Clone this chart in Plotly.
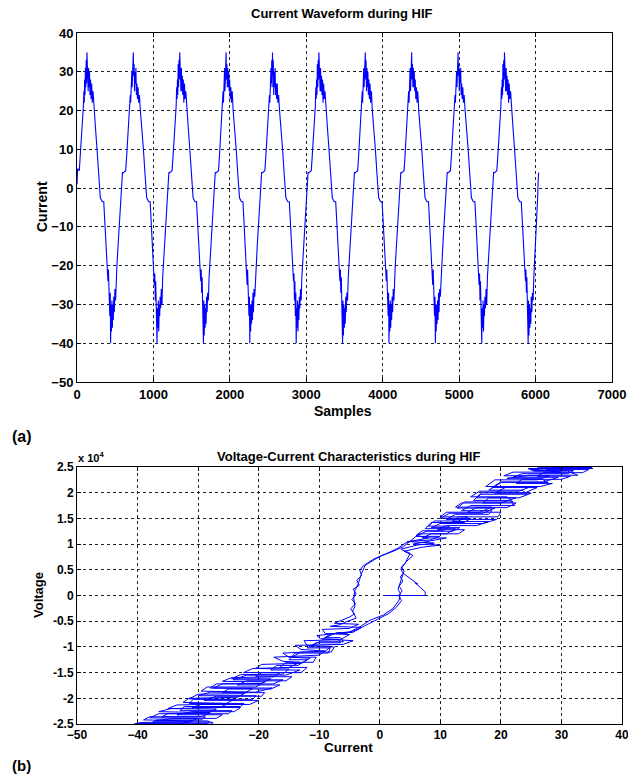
import plotly.graph_objects as go

# ---------------- (a) Current waveform during HIF (one list per cycle) ----------------
samples_c0 = [0, 8, 30, 42, 55, 70, 83, 90, 95, 100, 105, 110, 115, 120, 125, 130, 135, 140, 146, 152, 158, 164, 170, 177, 184, 192, 200, 210, 222, 240, 262, 285, 305, 330, 350, 362, 380, 398, 405, 411, 417, 423, 429, 435, 440, 445, 451, 457, 463, 469, 475, 481, 488, 496, 505, 514, 522, 537, 552, 570, 582, 595]
current_c0 = [1, 5, 4.5, 8, 12, 17, 21, 25, 22, 28, 24, 31, 26, 33, 27, 35, 28, 33, 25, 31, 26, 30, 24, 28, 23, 27, 22, 25, 20, 16, 10, 3, -2.5, -3.5, -3.5, -8, -14, -20, -24, -21, -28, -24, -33, -27, -40, -30, -37, -29, -36, -30, -34, -28, -32, -26, -29, -23, -20, -15, -10, -3, 2, 4]

samples_c1 = [607, 637, 649, 662, 677, 690, 697, 702, 707, 712, 717, 722, 727, 732, 737, 742, 747, 753, 759, 765, 771, 777, 784, 791, 799, 807, 817, 829, 847, 869, 892, 912, 937, 957, 969, 987, 1005, 1012, 1018, 1024, 1030, 1036, 1042, 1047, 1052, 1058, 1064, 1070, 1076, 1082, 1088, 1095, 1103, 1112, 1121, 1129, 1144, 1159, 1177, 1189, 1202]
current_c1 = [4, 4.5, 8, 12, 17, 21, 24, 22, 29, 25, 30, 26, 34, 27, 35, 29, 32, 25, 30, 27, 31, 24, 27, 23, 26, 22, 24, 20, 16, 10, 3, -2.5, -3.5, -3.5, -8, -14, -20, -25, -22, -29, -24, -34, -28, -40, -31, -36, -29, -37, -30, -33, -28, -31, -26, -30, -23, -20, -15, -10, -3, 2, 4]

samples_c2 = [1214, 1244, 1256, 1269, 1284, 1297, 1304, 1309, 1314, 1319, 1324, 1329, 1334, 1339, 1344, 1349, 1354, 1360, 1366, 1372, 1378, 1384, 1391, 1398, 1406, 1414, 1424, 1436, 1454, 1476, 1499, 1519, 1544, 1564, 1576, 1594, 1612, 1619, 1625, 1631, 1637, 1643, 1649, 1654, 1659, 1665, 1671, 1677, 1683, 1689, 1695, 1702, 1710, 1719, 1728, 1736, 1751, 1766, 1784, 1796, 1809]
current_c2 = [4, 4.5, 8, 12, 17, 21, 26, 23, 28, 24, 32, 26, 33, 28, 35, 27, 34, 25, 31, 25, 29, 24, 28, 22, 27, 23, 25, 20, 16, 10, 3, -2.5, -3.5, -3.5, -8, -14, -20, -24, -21, -27, -23, -32, -27, -40, -29, -38, -30, -36, -31, -35, -28, -32, -27, -29, -23, -20, -15, -10, -3, 2, 4]

samples_c3 = [1821, 1851, 1863, 1876, 1891, 1904, 1911, 1916, 1921, 1926, 1931, 1936, 1941, 1946, 1951, 1956, 1961, 1967, 1973, 1979, 1985, 1991, 1998, 2005, 2013, 2021, 2031, 2043, 2061, 2083, 2106, 2126, 2151, 2171, 2183, 2201, 2219, 2226, 2232, 2238, 2244, 2250, 2256, 2261, 2266, 2272, 2278, 2284, 2290, 2296, 2302, 2309, 2317, 2326, 2335, 2343, 2358, 2373, 2391, 2403, 2416]
current_c3 = [4, 4.5, 8, 12, 17, 21, 25, 22, 27, 23, 31, 25, 33, 27, 35, 28, 32, 26, 31, 26, 30, 25, 28, 23, 26, 22, 25, 20, 16, 10, 3, -2.5, -3.5, -3.5, -8, -14, -20, -25, -21, -28, -25, -33, -28, -40, -30, -37, -30, -35, -29, -34, -27, -32, -26, -28, -23, -20, -15, -10, -3, 2, 4]

samples_c4 = [2428, 2458, 2470, 2483, 2498, 2511, 2518, 2523, 2528, 2533, 2538, 2543, 2548, 2553, 2558, 2563, 2568, 2574, 2580, 2586, 2592, 2598, 2605, 2612, 2620, 2628, 2638, 2650, 2668, 2690, 2713, 2733, 2758, 2778, 2790, 2808, 2826, 2833, 2839, 2845, 2851, 2857, 2863, 2868, 2873, 2879, 2885, 2891, 2897, 2903, 2909, 2916, 2924, 2933, 2942, 2950, 2965, 2980, 2998, 3010, 3023]
current_c4 = [4, 4.5, 8, 12, 17, 21, 24, 22, 28, 25, 31, 27, 33, 26, 35, 29, 33, 24, 30, 26, 31, 24, 27, 23, 27, 22, 24, 20, 16, 10, 3, -2.5, -3.5, -3.5, -8, -14, -20, -24, -22, -29, -24, -33, -27, -40, -31, -36, -29, -37, -30, -34, -28, -31, -26, -29, -23, -20, -15, -10, -3, 2, 4]

samples_c5 = [3035, 3065, 3077, 3090, 3105, 3118, 3125, 3130, 3135, 3140, 3145, 3150, 3155, 3160, 3165, 3170, 3175, 3181, 3187, 3193, 3199, 3205, 3212, 3219, 3227, 3235, 3245, 3257, 3275, 3297, 3320, 3340, 3365, 3385, 3397, 3415, 3433, 3440, 3446, 3452, 3458, 3464, 3470, 3475, 3480, 3486, 3492, 3498, 3504, 3510, 3516, 3523, 3531, 3540, 3549, 3557, 3572, 3587, 3605, 3617, 3630]
current_c5 = [4, 4.5, 8, 12, 17, 21, 26, 23, 28, 24, 32, 26, 33, 28, 35, 27, 34, 25, 31, 25, 29, 24, 28, 22, 27, 23, 25, 20, 16, 10, 3, -2.5, -3.5, -3.5, -8, -14, -20, -24, -21, -27, -23, -32, -27, -40, -29, -38, -30, -36, -31, -35, -28, -32, -27, -29, -23, -20, -15, -10, -3, 2, 4]

samples_c6 = [3642, 3672, 3684, 3697, 3712, 3725, 3732, 3737, 3742, 3747, 3752, 3757, 3762, 3767, 3772, 3777, 3782, 3788, 3794, 3800, 3806, 3812, 3819, 3826, 3834, 3842, 3852, 3864, 3882, 3904, 3927, 3947, 3972, 3992, 4004, 4022, 4040, 4047, 4053, 4059, 4065, 4071, 4077, 4082, 4087, 4093, 4099, 4105, 4111, 4117, 4123, 4130, 4138, 4147, 4156, 4164, 4179, 4194, 4212, 4224, 4237]
current_c6 = [4, 4.5, 8, 12, 17, 21, 25, 22, 28, 24, 31, 26, 33, 27, 35, 28, 33, 25, 31, 26, 30, 24, 28, 23, 27, 22, 25, 20, 16, 10, 3, -2.5, -3.5, -3.5, -8, -14, -20, -24, -21, -28, -24, -33, -27, -40, -30, -37, -29, -36, -30, -34, -28, -32, -26, -29, -23, -20, -15, -10, -3, 2, 4]

samples_c7 = [4249, 4279, 4291, 4304, 4319, 4332, 4339, 4344, 4349, 4354, 4359, 4364, 4369, 4374, 4379, 4384, 4389, 4395, 4401, 4407, 4413, 4419, 4426, 4433, 4441, 4449, 4459, 4471, 4489, 4511, 4534, 4554, 4579, 4599, 4611, 4629, 4647, 4654, 4660, 4666, 4672, 4678, 4684, 4689, 4694, 4700, 4706, 4712, 4718, 4724, 4730, 4737, 4745, 4754, 4763, 4771, 4786, 4801, 4819, 4831, 4844]
current_c7 = [4, 4.5, 8, 12, 17, 21, 25, 22, 27, 23, 31, 25, 33, 27, 35, 28, 32, 26, 31, 26, 30, 25, 28, 23, 26, 22, 25, 20, 16, 10, 3, -2.5, -3.5, -3.5, -8, -14, -20, -25, -21, -28, -25, -33, -28, -40, -30, -37, -30, -35, -29, -34, -27, -32, -26, -28, -23, -20, -15, -10, -3, 2, 4]

samples_c8 = [4856, 4886, 4898, 4911, 4926, 4939, 4946, 4951, 4956, 4961, 4966, 4971, 4976, 4981, 4986, 4991, 4996, 5002, 5008, 5014, 5020, 5026, 5033, 5040, 5048, 5056, 5066, 5078, 5096, 5118, 5141, 5161, 5186, 5206, 5218, 5236, 5254, 5261, 5267, 5273, 5279, 5285, 5291, 5296, 5301, 5307, 5313, 5319, 5325, 5331, 5337, 5344, 5352, 5361, 5370, 5378, 5393, 5408, 5426, 5438, 5451]
current_c8 = [4, 4.5, 8, 12, 17, 21, 24, 22, 29, 25, 30, 26, 34, 27, 35, 29, 32, 25, 30, 27, 31, 24, 27, 23, 26, 22, 24, 20, 16, 10, 3, -2.5, -3.5, -3.5, -8, -14, -20, -25, -22, -29, -24, -34, -28, -40, -31, -36, -29, -37, -30, -33, -28, -31, -26, -30, -23, -20, -15, -10, -3, 2, 4]

samples_c9 = [5463, 5493, 5505, 5518, 5533, 5546, 5553, 5558, 5563, 5568, 5573, 5578, 5583, 5588, 5593, 5598, 5603, 5609, 5615, 5621, 5627, 5633, 5640, 5647, 5655, 5663, 5673, 5685, 5703, 5725, 5748, 5768, 5793, 5813, 5825, 5843, 5861, 5868, 5874, 5880, 5886, 5892, 5898, 5903, 5908, 5914, 5920, 5926, 5932, 5938, 5944, 5951, 5959, 5968, 5977, 5985, 6000, 6012, 6026, 6034, 6040]
current_c9 = [4, 4.5, 8, 12, 17, 21, 26, 23, 28, 24, 32, 26, 33, 28, 35, 27, 34, 25, 31, 25, 29, 24, 28, 22, 27, 23, 25, 20, 16, 10, 3, -2.5, -3.5, -3.5, -8, -14, -20, -24, -21, -27, -23, -32, -27, -40, -29, -38, -30, -36, -31, -35, -28, -32, -27, -29, -23, -20, -15, -10, -3, 2, 4]

wave_samples_cycles = [samples_c0, samples_c1, samples_c2, samples_c3, samples_c4,
                       samples_c5, samples_c6, samples_c7, samples_c8, samples_c9]
wave_current_cycles = [current_c0, current_c1, current_c2, current_c3, current_c4,
                       current_c5, current_c6, current_c7, current_c8, current_c9]

# ---------------- (b) Voltage-current characteristic: (current, voltage) ----------------
vi_transient = [(0.9, 0), (7.5, 0), (7.5, 700), (5.8, 2500), (6.3, 2200), (3.9, 4300)]

vi_rise_1 = [
    (-40.5, -25000), (-28.8, -25000), (-28.2, -24600), (-37.5, -24600), (-36.8, -24200), (-29.5, -24200),
    (-28.8, -23600), (-36.0, -23600), (-35.0, -23000), (-25.0, -23000), (-24.4, -22400), (-33.0, -22400),
    (-32.3, -21600), (-23.0, -21600), (-22.4, -21000), (-31.5, -21000), (-30.8, -20200), (-21.0, -20200),
    (-20.4, -19500), (-30.0, -19500), (-28.0, -18800), (-20.5, -18800), (-17.8, -18000), (-27.5, -18000),
    (-26.0, -17200), (-17.6, -17200), (-16.0, -16400), (-24.2, -16400), (-22.0, -15500), (-15.5, -15500),
    (-13.2, -14500), (-18.0, -14500), (-17.0, -13600), (-13.5, -13600), (-12.0, -12500), (-15.0, -12500),
    (-14.0, -11200), (-8.5, -11200), (-8.2, -10200), (-12.0, -10200), (-10.5, -9200), (-6.5, -9200),
    (-6.8, -8500), (-9.5, -8500), (-8.0, -7400), (-5.5, -7400), (-3.3, -6100), (-1.6, -4800),
    (0.6, -3800), (2.2, -2500), (3.2, -900), (3.4, 400), (3.0, 1200), (3.3, 2300), (3.9, 4300),
    (3.5, 5000), (3.6, 5600), (4.2, 6300), (5.0, 8200), (3.5, 9000), (6.1, 9800), (9.0, 10200),
    (4.5, 10500), (8.3, 10800), (9.9, 11500), (6.0, 11500), (7.7, 12500), (12.0, 12500), (13.2, 13200),
    (8.5, 13200), (10.0, 14000), (17.0, 14000), (19.3, 14800), (11.0, 14800), (12.5, 15800), (18.0, 15800),
    (18.5, 16500), (13.5, 16500), (15.0, 17500), (22.3, 17500), (21.5, 18500), (15.5, 18500), (16.5, 19700),
    (24.3, 19700), (23.5, 20500), (18.0, 20500), (20.1, 22000), (27.8, 22000), (26.5, 22800), (21.0, 22800),
    (24.8, 23400), (32.7, 23400), (31.0, 24200), (25.5, 24200), (24.5, 24700), (35.2, 24700), (33.0, 25000),
    (26.0, 25000),
]
vi_fall_1 = [
    (34.0, 24900), (25.0, 24500), (30.0, 24000), (22.0, 24000), (20.5, 23300), (28.0, 23300), (26.0, 22500),
    (19.0, 22500), (17.5, 21200), (25.0, 21200), (23.0, 20300), (16.5, 20300), (15.0, 19200), (21.0, 19200),
    (22.0, 18200), (14.0, 18200), (12.8, 17000), (19.0, 17000), (17.0, 16000), (11.5, 16000), (10.0, 15000),
    (15.0, 15000), (14.0, 14200), (8.5, 14200), (7.5, 13000), (12.5, 13000), (11.0, 12000), (6.5, 12000),
    (5.3, 10800), (3.9, 9500), (2.2, 8600), (0.0, 7600), (-2.4, 5900), (-3.0, 4300), (-3.55, 2300),
    (-4.1, 1000), (-4.3, -500), (-4.1, -2200), (-4.5, -3000), (-3.9, -4400), (-5.5, -5100), (-6.6, -5700),
    (-8.2, -6000), (-3.0, -6200), (-4.5, -7000), (-10.4, -7800), (-9.8, -8400), (-4.4, -8800), (-6.0, -9500),
    (-14.0, -9700), (-13.0, -10500), (-9.0, -10800), (-10.0, -11600), (-17.5, -12000), (-16.0, -12800),
    (-13.2, -13000), (-15.0, -14000), (-21.0, -14200), (-22.5, -15000), (-16.5, -15000), (-17.5, -15800),
    (-24.5, -16000), (-26.0, -16700), (-19.0, -16800), (-20.5, -17800), (-28.5, -17800), (-29.5, -18600),
    (-22.0, -18800), (-23.5, -19800), (-31.5, -20000), (-32.5, -20800), (-25.0, -21000), (-26.5, -21800),
    (-34.5, -22000), (-36.5, -22600), (-28.0, -22800), (-29.5, -23600), (-38.0, -23600), (-39.0, -24200),
    (-31.0, -24400), (-33.0, -25000), (-40.0, -25000),
]
vi_rise_2 = [
    (-35.5, -24800), (-27.5, -24800), (-28.5, -24400), (-37.0, -24400), (-34.0, -23900), (-27.0, -23900),
    (-26.0, -23200), (-33.5, -23200), (-31.0, -22600), (-24.0, -22600), (-23.0, -21800), (-31.0, -21800),
    (-29.5, -21200), (-21.5, -21200), (-20.0, -20400), (-29.0, -20400), (-27.0, -19600), (-19.5, -19600),
    (-19.0, -18900), (-26.0, -18900), (-25.0, -18200), (-18.0, -18200), (-16.5, -17400), (-23.5, -17400),
    (-22.0, -16600), (-15.5, -16600), (-14.5, -15800), (-20.5, -15800), (-19.5, -15000), (-13.0, -15000),
    (-12.0, -14000), (-16.5, -14000), (-15.5, -13000), (-11.0, -13000), (-10.5, -12000), (-14.5, -12000),
    (-13.0, -11000), (-8.0, -11000), (-7.5, -10000), (-11.5, -10000), (-10.0, -9000), (-6.0, -9000),
    (-6.5, -8200), (-9.0, -8200), (-7.0, -7200), (-4.5, -7200), (-2.5, -5900), (-0.5, -4700), (1.5, -3500),
    (2.8, -2200), (3.6, -1000), (3.1, 0), (3.7, 900), (3.2, 1800), (3.8, 2800), (3.4, 3600), (4.0, 4600),
    (3.7, 5500), (4.4, 6600), (5.5, 7800), (4.0, 8600), (7.0, 9400), (10.0, 9800), (5.5, 10000), (8.5, 10600),
    (11.0, 11200), (7.0, 11200), (8.5, 12000), (13.0, 12000), (14.0, 12800), (9.5, 12800), (11.0, 13600),
    (16.0, 13600), (18.0, 14400), (12.0, 14400), (13.0, 15300), (19.5, 15300), (20.0, 16200), (14.5, 16200),
    (16.0, 17100), (21.0, 17100), (22.5, 18000), (17.0, 18000), (18.0, 19000), (23.0, 19000), (25.0, 19900),
    (19.0, 19900), (21.0, 21200), (26.5, 21200), (28.5, 21800), (22.5, 21800), (23.5, 22600), (30.0, 22600),
    (31.5, 23200), (26.0, 23200), (27.0, 23900), (33.5, 23900), (34.5, 24500), (27.5, 24500), (29.0, 24900),
    (35.0, 24900),
]
vi_fall_2 = [
    (26.5, 24800), (25.5, 24300), (32.0, 24300), (31.0, 23700), (23.5, 23700), (22.0, 23000), (29.5, 23000),
    (27.0, 22100), (20.0, 22100), (18.5, 21000), (26.0, 21000), (24.0, 20000), (17.0, 20000), (16.0, 19000),
    (22.5, 19000), (20.0, 18000), (13.5, 18000), (12.5, 17200), (18.5, 17200), (16.5, 16200), (11.0, 16200),
    (10.0, 15300), (14.5, 15300), (13.0, 14500), (9.0, 14500), (8.0, 13500), (11.5, 13500), (10.5, 12600),
    (7.0, 12600), (6.0, 11700), (8.0, 11200), (4.5, 10400), (3.0, 9200), (1.2, 8200), (-1.0, 7100),
    (-2.8, 5700), (-3.3, 4900), (-3.0, 3900), (-3.8, 3000), (-3.4, 2000), (-4.4, 1200), (-3.9, 300),
    (-4.6, -800), (-4.0, -1600), (-4.8, -2600), (-4.2, -3600), (-5.0, -4200), (-7.5, -5400), (-3.5, -5600),
    (-5.0, -6400), (-9.5, -6600), (-9.0, -7400), (-5.0, -7600), (-6.5, -8600), (-12.5, -8800), (-12.0, -9700),
    (-8.0, -9900), (-9.0, -10800), (-16.0, -11200), (-15.0, -12000), (-11.5, -12200), (-13.0, -13200),
    (-19.5, -13400), (-20.5, -14200), (-15.0, -14300), (-16.0, -15300), (-23.0, -15400), (-24.5, -16200),
    (-18.0, -16200), (-19.5, -17100), (-27.0, -17200), (-28.0, -18000), (-21.0, -18100), (-22.5, -19100),
    (-30.0, -19200), (-31.5, -20100), (-24.0, -20200), (-25.5, -21100), (-33.5, -21300), (-35.0, -22000),
    (-27.0, -22100), (-28.5, -22900), (-36.5, -23000), (-38.0, -23800), (-30.0, -23900), (-31.5, -24600),
    (-39.5, -24700), (-40.5, -25000), (-28.5, -25000),
]

a_xticks = [0, 1000, 2000, 3000, 4000, 5000, 6000, 7000]
a_yticks = [-50, -40, -30, -20, -10, 0, 10, 20, 30, 40]
b_xticks = [-50, -40, -30, -20, -10, 0, 10, 20, 30, 40]
b_yticks = [-25000, -20000, -15000, -10000, -5000, 0, 5000, 10000, 15000, 20000, 25000]
b_ytext = ["-2.5", "-2", "-1.5", "-1", "-0.5", "0", "0.5", "1", "1.5", "2", "2.5"]

# ---------------- build ----------------
wave_x, wave_y = [], []
for s, c in zip(wave_samples_cycles, wave_current_cycles):
    assert len(s) == len(c), (s[0], len(s), len(c))
    wave_x += s
    wave_y += c

vi_path = vi_rise_1 + vi_fall_1 + vi_rise_2 + vi_fall_2
vi_x = [p[0] for p in vi_path]
vi_y = [p[1] for p in vi_path]

W, H = 628, 777
FONT = "Liberation Sans, Arial, sans-serif"
BLUE = "#0000FF"


def px_x(p):
    return p / W


def px_y(p):
    return 1 - p / H


fig = go.Figure()
fig.add_trace(go.Scatter(x=wave_x, y=wave_y, mode="lines",
                         line=dict(color=BLUE, width=1.1), xaxis="x", yaxis="y",
                         showlegend=False, hoverinfo="skip"))
fig.add_trace(go.Scatter(x=[p[0] for p in vi_transient], y=[p[1] for p in vi_transient],
                         mode="lines", line=dict(color=BLUE, width=1),
                         xaxis="x2", yaxis="y2", showlegend=False, hoverinfo="skip"))
fig.add_trace(go.Scatter(x=vi_x, y=vi_y, mode="lines",
                         line=dict(color=BLUE, width=1), xaxis="x2", yaxis="y2",
                         showlegend=False, hoverinfo="skip"))

axis_common = dict(showgrid=True, gridcolor="#222222", griddash="dot", gridwidth=1,
                   showline=True, linecolor="black", linewidth=1, mirror="ticks",
                   ticks="inside", ticklen=4, tickcolor="black", zeroline=False,
                   automargin=False, ticklabeloverflow="allow")

fig.update_layout(
    width=W, height=H,
    margin=dict(l=0, r=0, t=0, b=0),
    paper_bgcolor="white", plot_bgcolor="white",
    xaxis=dict(axis_common, domain=[px_x(77), px_x(612)], range=[0, 7000],
               tickvals=a_xticks, anchor="y",
               tickfont=dict(family=FONT, size=13, color="black", weight="bold")),
    yaxis=dict(axis_common, domain=[px_y(382), px_y(33)], range=[-50, 40],
               tickvals=a_yticks, anchor="x",
               tickfont=dict(family=FONT, size=13, color="black", weight="bold")),
    xaxis2=dict(axis_common, domain=[px_x(77), px_x(622)], range=[-50, 40],
                tickvals=b_xticks, anchor="y2",
                tickfont=dict(family=FONT, size=12, color="black", weight="bold")),
    yaxis2=dict(axis_common, domain=[px_y(724), px_y(467)], range=[-25000, 25000],
                tickvals=b_yticks, ticktext=b_ytext, anchor="x2",
                tickfont=dict(family=FONT, size=12, color="black", weight="bold")),
)


def label(text, x, y, size, angle=0, xanchor="center"):
    fig.add_annotation(text=text, x=px_x(x), y=px_y(y), xref="paper", yref="paper",
                       showarrow=False, textangle=angle, xanchor=xanchor, yanchor="middle",
                       font=dict(family=FONT, size=size, color="black", weight="bold"))


label("Current Waveform during HIF", 342, 13, 13)
label("Samples", 343, 411, 14)
label("Current", 42, 207, 14, angle=-90)
label("(a)", 10, 437, 16, xanchor="left")
label("Voltage-Current Characteristics during HIF", 348, 456, 13)
label("x 10<sup>4</sup>", 76, 457, 11, xanchor="left")
label("Current", 348, 747, 13.5)
label("Voltage", 38, 595, 13, angle=-90)
label("(b)", 10, 765, 15, xanchor="left")

fig.write_html("out.html",
               config={"displayModeBar": False},
               post_script="document.body.style.margin='0px';document.body.style.overflow='hidden';")
